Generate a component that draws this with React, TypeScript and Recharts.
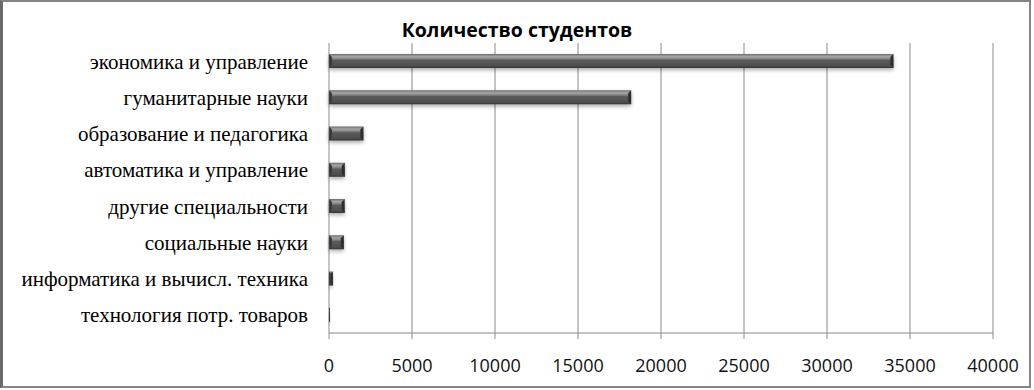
import { Bar, BarChart, CartesianGrid, XAxis, YAxis } from 'recharts';

const categories = [
  'экономика и управление',
  'гуманитарные науки',
  'образование и педагогика',
  'автоматика и управление',
  'другие специальности',
  'социальные науки',
  'информатика и вычисл. техника',
  'технология потр. товаров',
];

const students = [34000, 18200, 2070, 950, 940, 890, 230, 60];

const xTicks = [0, 5000, 10000, 15000, 20000, 25000, 30000, 35000, 40000];

const bandTicks = [0, 1, 2, 3, 4, 5, 6, 7, 8];

const data = categories.map((name, i) => ({ name, value: students[i] }));

const W = 1034;
const H = 390;
const axisGrey = '#8a8a8a';

function BevelBar(props: any) {
  const { x, y, width, height } = props;
  if (!width || width <= 0) return null;
  const b = Math.min(3, width / 2);
  return (
    <g>
      <rect x={x} y={y + 2} width={width} height={height} fill="#000" opacity={0.35} filter="url(#barShadow)" />
      <rect x={x} y={y} width={width} height={height} fill="url(#barBody)" />
      <polygon
        points={`${x},${y} ${x + b},${y + b} ${x + b},${y + height - b} ${x},${y + height}`}
        fill="#3c3c3c"
      />
      <polygon
        points={`${x + width},${y} ${x + width - b},${y + b} ${x + width - b},${y + height - b} ${x + width},${y + height}`}
        fill="#2e2e2e"
      />
    </g>
  );
}

export default function App() {
  return (
    <div
      style={{
        position: 'fixed',
        left: 0,
        top: 0,
        width: W,
        height: H,
        background: '#fff',
      }}
    >
      <div
        style={{
          position: 'absolute',
          left: 0,
          top: 0,
          width: 1031,
          height: 388,
          boxSizing: 'border-box',
          borderTop: '2px solid #858585',
          borderRight: '2px solid #858585',
          borderBottom: '2px solid #858585',
          borderLeft: '3px solid #6a6a6a',
        }}
      />
      <div
        style={{
          position: 'absolute',
          left: 0,
          width: W,
          top: 16,
          textAlign: 'center',
          fontFamily: '"Open Sans", sans-serif',
          fontWeight: 700,
          fontSize: 19.5,
          color: '#000',
        }}
      >
        Количество студентов
      </div>
      <BarChart
        width={W}
        height={H}
        data={data}
        layout="vertical"
        margin={{ top: 43, right: 41, bottom: 17, left: 0 }}
        barSize={14}
        style={{ position: 'absolute', left: 0, top: 0 }}
      >
        <defs>
          <linearGradient id="barBody" x1="0" y1="0" x2="0" y2="1">
            <stop offset="0%" stopColor="#6e6e6e" />
            <stop offset="18%" stopColor="#a4a4a4" />
            <stop offset="32%" stopColor="#8a8a8a" />
            <stop offset="45%" stopColor="#5a5a5a" />
            <stop offset="85%" stopColor="#4e4e4e" />
            <stop offset="100%" stopColor="#333" />
          </linearGradient>
          <filter id="barShadow" x="-10%" y="-50%" width="120%" height="200%">
            <feGaussianBlur stdDeviation="2" />
          </filter>
        </defs>
        <CartesianGrid horizontal={false} stroke={axisGrey} strokeWidth={1} />
        <XAxis
          type="number"
          domain={[0, 40000]}
          ticks={xTicks}
          interval={0}
          height={40}
          axisLine={{ stroke: axisGrey }}
          tickLine={{ stroke: axisGrey }}
          tickSize={6}
          tickMargin={20}
          tick={{ fontSize: 18, fill: '#111', fontFamily: '"Open Sans", sans-serif' }}
        />
        <YAxis
          yAxisId="bands"
          type="number"
          domain={[0, 8]}
          ticks={bandTicks}
          interval={0}
          width={0}
          tick={false}
          axisLine={{ stroke: axisGrey }}
          tickLine={{ stroke: axisGrey }}
          tickSize={6}
        />
        <YAxis
          type="category"
          dataKey="name"
          width={329}
          interval={0}
          axisLine={false}
          tickLine={false}
          tickSize={0}
          tickMargin={21}
          tick={{ fontSize: 21, fill: '#000', fontFamily: '"Liberation Serif", serif' }}
        />
        <Bar dataKey="value" shape={<BevelBar />} isAnimationActive={false} />
      </BarChart>
    </div>
  );
}
